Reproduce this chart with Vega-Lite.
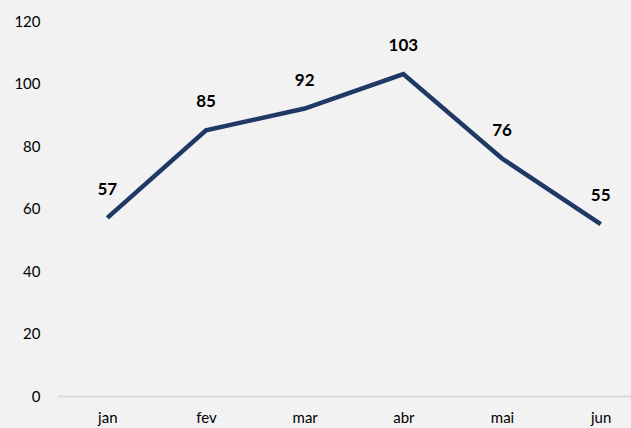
{
  "$schema": "https://vega.github.io/schema/vega-lite/v6.json",
  "autosize": {"type": "none"},
  "width": 592,
  "height": 375,
  "padding": {"left": 58, "top": 21, "right": 0, "bottom": 32},
  "background": "#f2f2f2",
  "config": {
    "view": {"stroke": null},
    "font": "Lato",
    "axis": {"labelFont": "Lato", "labelFontSize": 15, "labelFontWeight": "normal", "labelColor": "#000000", "grid": false, "ticks": false, "title": null, "domain": false}
  },
  "data": {"values": [
    {"mes": "jan", "valor": 57},
    {"mes": "fev", "valor": 85},
    {"mes": "mar", "valor": 92},
    {"mes": "abr", "valor": 103},
    {"mes": "mai", "valor": 76},
    {"mes": "jun", "valor": 55}
  ]},
  "encoding": {
    "x": {"field": "mes", "type": "ordinal", "sort": null,
      "scale": {"type": "point", "padding": 0.5},
      "axis": {"labelAngle": 0, "labelPadding": 14, "domain": true, "domainColor": "#d9d9d9", "domainWidth": 2}},
    "y": {"field": "valor", "type": "quantitative",
      "scale": {"domain": [0, 120]},
      "axis": {"values": [0, 20, 40, 60, 80, 100, 120], "labelPadding": 18}}
  },
  "layer": [
    {"mark": {"type": "line", "color": "#1f3864", "strokeWidth": 4.5}},
    {"mark": {"type": "text", "dy": -28, "fontSize": 17, "fontWeight": "bold", "color": "#000000", "font": "Lato"},
     "encoding": {"text": {"field": "valor", "type": "quantitative"}}}
  ]
}
